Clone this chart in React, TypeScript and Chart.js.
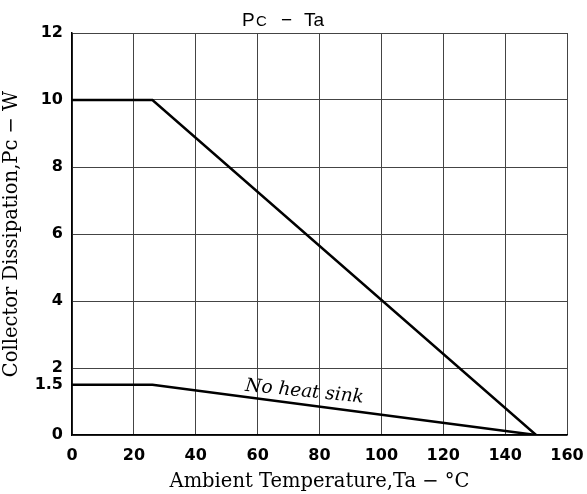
import { useEffect, useRef } from "react";
import { Chart, registerables } from "chart.js";

Chart.register(...registerables);

// ---- data ----
const heatSinkTemps = [0, 26, 150];
const heatSinkPower = [10, 10, 0];
const noHeatSinkTemps = [0, 26, 150];
const noHeatSinkPower = [1.5, 1.5, 0];
const yTickValues = [0, 1.5, 2, 4, 6, 8, 10, 12];
const xTickValues = [0, 20, 40, 60, 80, 100, 120, 140, 160];
const curveLabel = "No heat sink";
const curveLabelAt = 75;

function interp(xs: number[], ys: number[], x: number) {
  for (let i = 0; i < xs.length - 1; i++) {
    if (x >= xs[i] && x <= xs[i + 1]) {
      const t = (x - xs[i]) / (xs[i + 1] - xs[i]);
      return ys[i] + t * (ys[i + 1] - ys[i]);
    }
  }
  return ys[ys.length - 1];
}

const titlePlugin = {
  id: "customTitle",
  afterDraw(chart: any) {
    const ctx = chart.ctx;
    ctx.save();
    ctx.fillStyle = "#000";
    ctx.textBaseline = "alphabetic";
    ctx.textAlign = "left";
    const baseY = 26;
    const big = "19px 'Liberation Sans', Arial, sans-serif";
    const small = "15px 'Liberation Sans', Arial, sans-serif";
    ctx.font = big;
    ctx.fillText("P", 242, baseY);
    ctx.font = small;
    ctx.fillText("C", 256, baseY);
    ctx.font = big;
    ctx.fillText("\u2212", 281, baseY);
    ctx.fillText("Ta", 304, baseY);

    // curve label
    const xs = chart.scales.x;
    const ys = chart.scales.y;
    const px = xs.getPixelForValue(curveLabelAt);
    const py = ys.getPixelForValue(interp(noHeatSinkTemps, noHeatSinkPower, curveLabelAt)) - 8;
    ctx.translate(px, py);
    ctx.rotate(0.1);
    ctx.font = "italic 18.5px 'DejaVu Serif', serif";
    ctx.textAlign = "center";
    ctx.fillText(curveLabel, 0, 0);
    ctx.restore();
  },
};

export default function App() {
  const ref = useRef<HTMLCanvasElement | null>(null);
  useEffect(() => {
    if (!ref.current) return;
    const chart = new Chart(ref.current, {
      type: "line",
      data: {
        datasets: [
          {
            label: "Heat sink",
            data: heatSinkTemps.map((t, i) => ({ x: t, y: heatSinkPower[i] })),
            borderColor: "#000",
            borderWidth: 2.5,
            pointRadius: 0,
            fill: false,
          },
          {
            label: curveLabel,
            data: noHeatSinkTemps.map((t, i) => ({ x: t, y: noHeatSinkPower[i] })),
            borderColor: "#000",
            borderWidth: 2.5,
            pointRadius: 0,
            fill: false,
          },
        ],
      },
      options: {
        animation: false,
        responsive: false,
        maintainAspectRatio: false,
        layout: { padding: { top: 33, right: 20, bottom: 0, left: 0 } },
        plugins: {
          legend: { display: false },
          tooltip: { enabled: false },
          title: { display: false },
        },
        scales: {
          x: {
            type: "linear",
            min: 0,
            max: 160,
            afterBuildTicks: (scale: any) => {
              scale.ticks = xTickValues.map((v) => ({ value: v }));
            },
            afterFit: (scale: any) => {
              scale.height = 59;
              scale.paddingLeft = 0;
              scale.paddingRight = 0;
            },
            grid: { color: "#444", lineWidth: 1, drawTicks: false },
            border: { display: true, color: "#000", width: 1.5 },
            ticks: {
              padding: 11,
              color: "#000",
              maxRotation: 0,
              font: { family: "'DejaVu Sans', sans-serif", weight: "bold", size: 16 },
            },
            title: {
              display: true,
              text: "Ambient Temperature,Ta \u2212 \u00B0C",
              color: "#000",
              font: { family: "'DejaVu Serif', serif", size: 19.5 },
              padding: { top: 0, bottom: 0 },
            },
          },
          y: {
            type: "linear",
            min: 0,
            max: 12,
            afterBuildTicks: (scale: any) => {
              scale.ticks = yTickValues.map((v) => ({ value: v }));
            },
            afterFit: (scale: any) => {
              scale.width = 72;
              scale.paddingTop = 0;
              scale.paddingBottom = 0;
            },
            grid: {
              color: (c: any) => (c.tick && c.tick.value === 1.5 ? "rgba(0,0,0,0)" : "#444"),
              lineWidth: 1,
              drawTicks: false,
            },
            border: { display: true, color: "#000", width: 1.5 },
            ticks: {
              padding: 9,
              color: "#000",
              font: { family: "'DejaVu Sans', sans-serif", weight: "bold", size: 16 },
              callback: (v: any) => String(v),
            },
            title: {
              display: true,
              text: "Collector Dissipation,P\u1D04 \u2212 W",
              color: "#000",
              font: { family: "'DejaVu Serif', serif", size: 19.5 },
              padding: { top: 0, bottom: 0 },
            },
          },
        },
      },
      plugins: [titlePlugin],
    });
    return () => chart.destroy();
  }, []);
  return (
    <div style={{ position: "fixed", left: 0, top: 0, width: 587, height: 494, background: "#fff" }}>
      <canvas ref={ref} width={587} height={494} style={{ width: 587, height: 494 }} />
    </div>
  );
}
